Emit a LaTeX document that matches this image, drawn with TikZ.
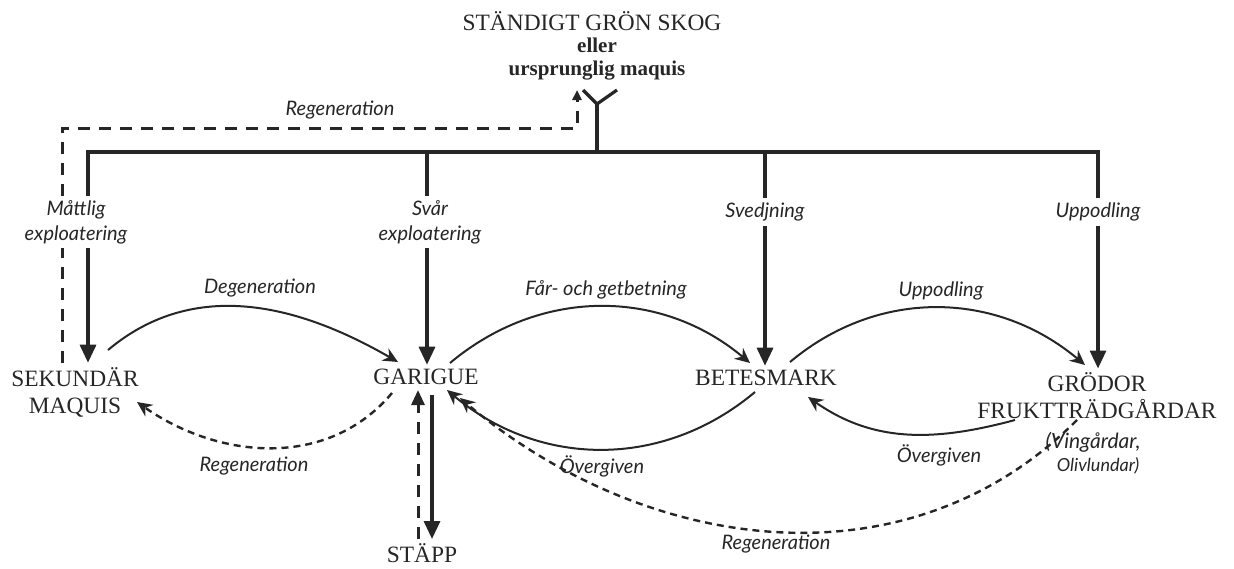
\documentclass[tikz,border=0pt]{standalone}
\usepackage{fontspec}
\setmainfont{Liberation Serif}
\newfontfamily\lblfont{Lato}
\usetikzlibrary{arrows.meta}

\begin{document}
\begin{tikzpicture}[x=0.5pt,y=0.5pt,
stage/.style={inner sep=2pt,align=center,text=black!85,
  font=\fontsize{11.7}{13.5}\selectfont},
lbl/.style={inner sep=2pt,align=center,text=black!85,
  font=\lblfont\itshape\fontsize{10}{12.5}\selectfont},
trunk/.style={line width=1.6pt,draw=black!85},
flow/.style={trunk,-{Triangle[length=9pt,width=8pt]}},
curvearrow/.style={line width=1pt,draw=black!85,
  -{Stealth[length=7.5pt,width=7pt,inset=2.5pt]}},
backarrow/.style={curvearrow,line width=1.2pt,dash pattern=on 3.5pt off 2.5pt},
dashline/.style={line width=1.5pt,draw=black!85,dash pattern=on 6pt off 4.5pt},
updash/.style={dashline,-{Triangle[length=5pt,width=4.5pt]}},
bigdash/.style={dashline,-{Triangle[length=7.5pt,width=6.5pt]}}
]
\useasboundingbox (0,0) rectangle (1234,-568);

\node (skog) [stage] at (592,-21) {STÄNDIGT GRÖN SKOG};
\node (orig) [stage,font=\bfseries\fontsize{10.5}{11.5}\selectfont] at (597,-59) {eller\\ursprunglig maquis};
\node (sekmaq) [stage] at (75,-392) {SEKUNDÄR\\MAQUIS};
\node (garigue) [stage] at (426,-377) {GARIGUE};
\node (betes) [stage] at (766,-378) {BETESMARK};
\node (grodor) [stage] at (1097,-396) {GRÖDOR\\FRUKTTRÄDGÅRDAR};
\node (vingard) [lbl,font=\lblfont\itshape\fontsize{10.5}{12}\selectfont] at (1093,-442) {(Vingårdar,};
\node (oliv) [lbl,font=\lblfont\itshape\fontsize{9}{11}\selectfont] at (1098,-466) {Olivlundar)};
\node (stapp) [stage] at (422,-553) {STÄPP};

\node (mattlig) [lbl] at (76,-222) {Måttlig\\exploatering};
\node (svar) [lbl] at (430,-222) {Svår\\exploatering};
\node (svedj) [lbl] at (765,-212) {Svedjning};
\node (uppod) [lbl] at (1098,-212) {Uppodling};
\node (regen0) [lbl] at (340,-110) {Regeneration};
\node (degen) [lbl] at (260,-288) {Degeneration};
\node (regen1) [lbl] at (254,-466) {Regeneration};
\node (fargb) [lbl] at (606,-290) {Får- och getbetning};
\node (overg1) [lbl] at (602,-466) {Övergiven};
\node (uppod2) [lbl] at (941,-291) {Uppodling};
\node (overg2) [lbl] at (939,-455) {Övergiven};
\node (regen2) [lbl] at (776,-544) {Regeneration};

\coordinate (yl) at (583,-90);
\coordinate (yr) at (617,-90);
\coordinate (yjoin) at (597,-104);
\coordinate (fork) at (597,-152);
\coordinate (b1) at (88,-152);
\coordinate (b2) at (427,-152);
\coordinate (b3) at (765,-152);
\coordinate (b4) at (1098,-152);
\coordinate (rgcorner) at (577,-128);
\coordinate (rgleft) at (62,-128);

\draw [trunk] (yl) -- (yjoin) -- (yr);
\draw [trunk] (yjoin) -- (fork);
\draw [trunk] (b1 |- mattlig.north) -- (b1) -- (b4) -- (b4 |- uppod.north);
\draw [trunk] (b2) -- (b2 |- svar.north);
\draw [trunk] (b3) -- (b3 |- svedj.north);
\draw [flow] (b1 |- mattlig.south) -- (b1 |- sekmaq.north);
\draw [flow] (b2 |- svar.south) -- (b2 |- garigue.north);
\draw [flow] (b3 |- svedj.south) -- (b3 |- betes.north);
\draw [flow] (b4 |- uppod.south) -- (b4 |- grodor.north);
\draw [dashline] (rgleft |- sekmaq.north) -- (rgleft |- mattlig.south);
\draw [updash] (rgleft |- mattlig.north) -- (rgleft) -- (rgcorner) -- (rgcorner |- yl);

\draw [curvearrow] ([shift={(33,42)}]sekmaq.center) to [out=40,in=150] ([shift={(-28,15)}]garigue.center);
\draw [backarrow] ([shift={(-34,-16)}]garigue.center) to [out=-130,in=-35] ([shift={(62,-10)}]sekmaq.center);
\draw [curvearrow] ([shift={(24,14)}]garigue.center) to [out=40,in=140] ([shift={(-16,15)}]betes.center);
\draw [curvearrow] ([shift={(-11,-14)}]betes.center) to [out=-140,in=-40] ([shift={(21,-13)}]garigue.center);
\draw [curvearrow] ([shift={(24,16)}]betes.center) to [out=40,in=140] ([shift={(-12,31)}]grodor.center);
\draw [curvearrow] ([shift={(-82,-24)}]grodor.center) to [out=-165,in=-35] ([shift={(42,-19)}]betes.center);
\draw [backarrow] ([shift={(-20,-24)}]grodor.center) to [out=-135,in=-40] ([shift={(34,-21)}]garigue.center);
\draw [flow] ([shift={(6,-18)}]garigue.center) -- ([xshift=5pt]stapp.north);
\draw [bigdash] ([xshift=-2pt]stapp.north) -- ([shift={(-8,-13)}]garigue.center);

\end{tikzpicture}
\end{document}
